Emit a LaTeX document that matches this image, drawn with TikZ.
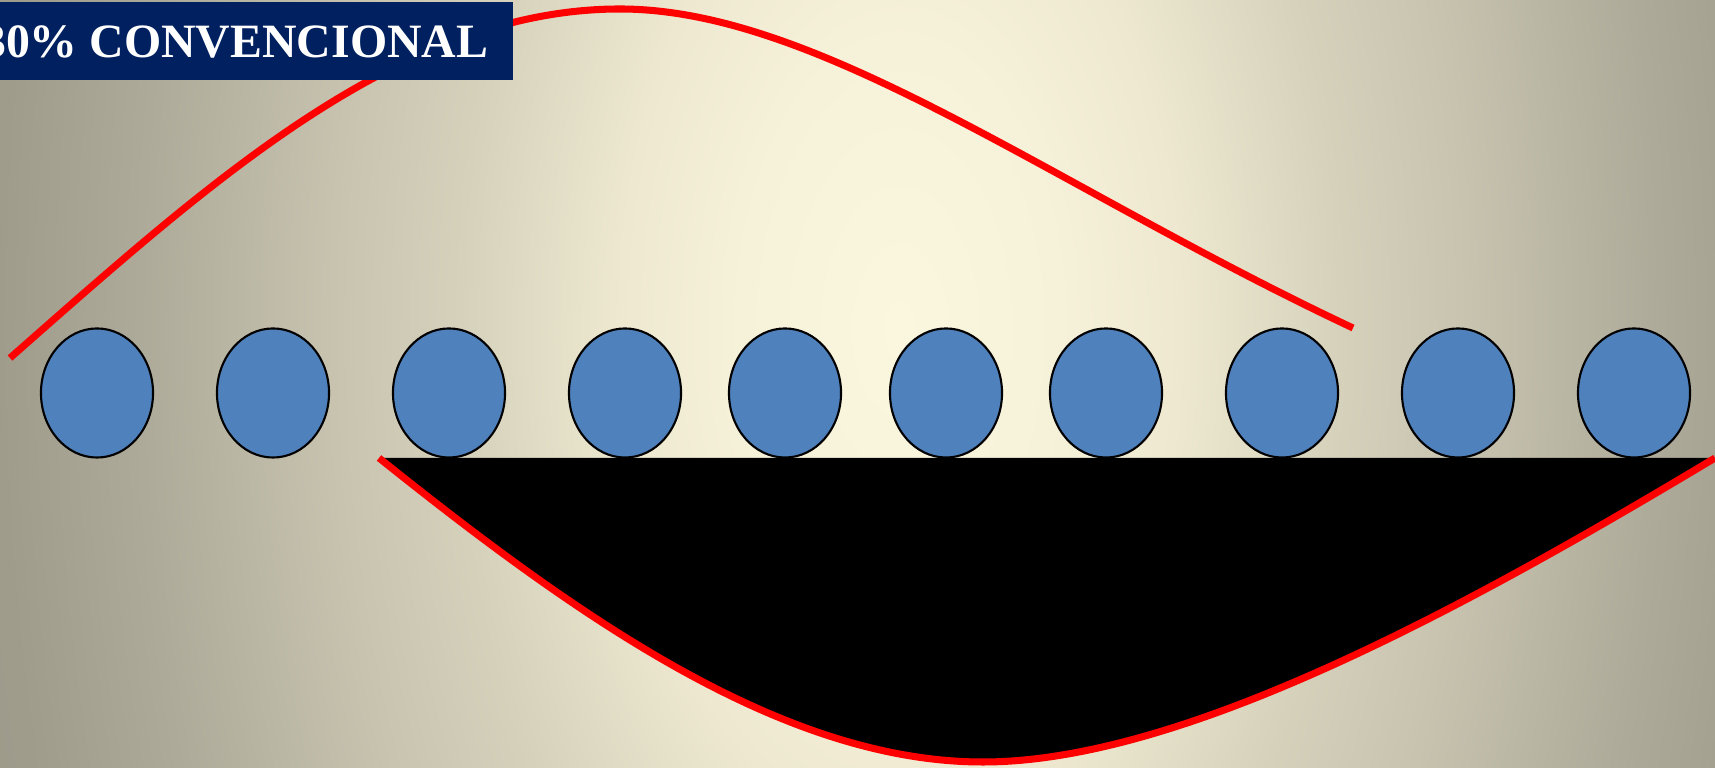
\documentclass[tikz,border=0pt]{standalone}
\usepackage{fontspec}
\setmainfont{Liberation Serif}
\usetikzlibrary{shapes.geometric}

\definecolor{glowA}{HTML}{FBF7DF}
\definecolor{glowB}{HTML}{F6F1D9}
\definecolor{glowC}{HTML}{EDE8CF}
\definecolor{glowD}{HTML}{D6D1BB}
\definecolor{glowE}{HTML}{C8C4B0}
\definecolor{glowF}{HTML}{ADAA99}
\definecolor{glowG}{HTML}{9F9C8C}
\definecolor{glowH}{HTML}{9C998A}
\definecolor{beadblue}{HTML}{4F81BD}
\definecolor{tagnavy}{HTML}{002060}

% slide background: light in the middle, grey towards the sides
\pgfdeclareradialshading{slideglow}{\pgfpoint{0bp}{0bp}}{%
  color(0bp)=(glowA); color(4bp)=(glowB); color(7bp)=(glowC);
  color(11bp)=(glowD); color(14bp)=(glowE); color(19bp)=(glowF);
  color(22.5bp)=(glowG); color(25bp)=(glowH); color(50bp)=(glowH)}

\begin{document}
\begin{tikzpicture}[x=0.01cm, y=-0.01cm,
    bead/.style={ellipse, draw=black, line width=0.6pt, fill=beadblue,
      minimum width=1.12cm, minimum height=1.29cm, inner sep=0pt},
    wave/.style={red, line width=2pt},
    tag/.style={fill=tagnavy, text=white,
      font=\bfseries\fontsize{13.6}{16}\selectfont,
      inner xsep=0.25cm, inner ysep=0pt,
      text height=0.56cm, text depth=0.22cm}]

  % units are pixels of the slide, y pointing down
  \useasboundingbox (0,0) rectangle (1715,768);

  % --- Background ---
  \begin{scope}
    \clip (0,0) rectangle (1715,768);
    \shade[shading=slideglow] (-100,-1470) rectangle (1900,2130);
  \end{scope}

  % --- Upper wave (runs under the title box) ---
  \draw[wave] (10,358) .. controls (210,182) and (400,9) .. (620,9)
    .. controls (820,9) and (1053,187) .. (1353,328);

  % --- Title ---
  \node[tag, anchor=base east] (title) at (514,58) {30\% CONVENCIONAL};

  % --- Lower wave with black area above it ---
  \fill[black] (379,458) .. controls (579,618) and (783,762) .. (983,762)
    .. controls (1183,762) and (1465,608) .. (1715,458) -- cycle;
  \draw[wave] (379,458) .. controls (579,618) and (783,762) .. (983,762)
    .. controls (1183,762) and (1465,608) .. (1715,458);

  % --- Row of beads ---
  \foreach \x [count=\i] in {97,273,449,625,785,946,1106,1282,1458,1634}
    \node[bead] (b\i) at (\x,393) {};

\end{tikzpicture}
\end{document}
